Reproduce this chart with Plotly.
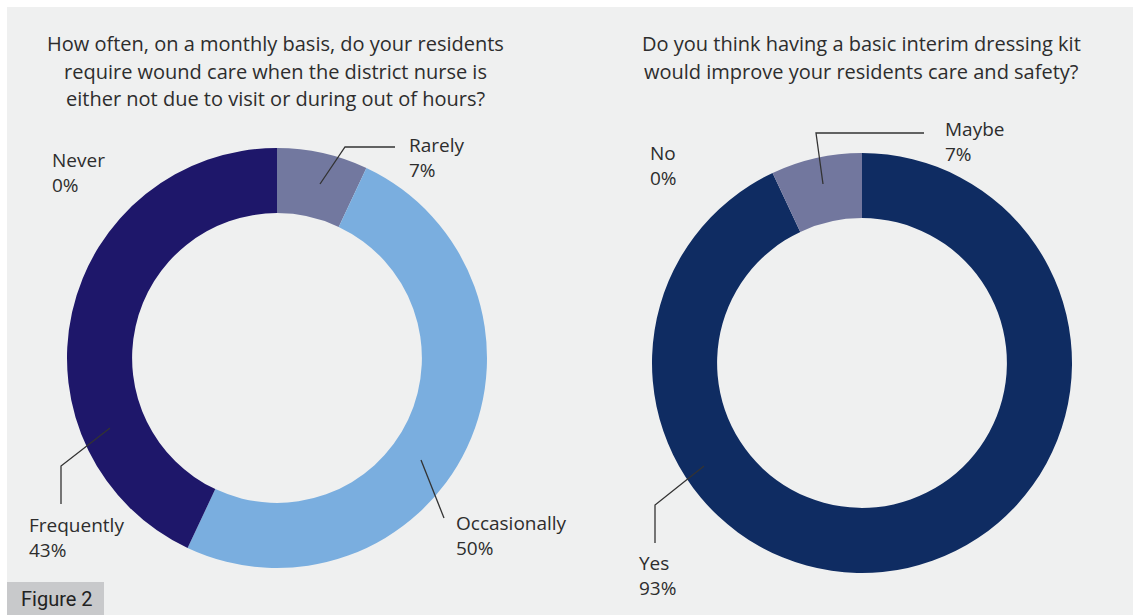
import plotly.graph_objects as go

# ---------------- data ----------------
q1_title = ["How often, on a monthly basis, do your residents",
            "require wound care when the district nurse is",
            "either not due to visit or during out of hours?"]
q1_labels = ["Rarely", "Occasionally", "Frequently", "Never"]
q1_values = [7, 50, 43, 0]
q1_colors = ["#72789f", "#7aaedf", "#1e176a", "#3b3f8f"]

q2_title = ["Do you think having a basic interim dressing kit",
            "would improve your residents care and safety?"]
q2_labels = ["Yes", "No", "Maybe"]
q2_values = [93, 0, 7]
q2_colors = ["#0f2c62", "#4a5a8a", "#72779e"]

figure_tag = "Figure 2"

# ---------------- layout helpers ----------------
W, H = 1136, 615
def px(x):
    return x / W
def py(y):
    return 1 - y / H

FONT = "Open Sans, Lato, sans-serif"
TXT = "#2d2d2d"
HOLE = 0.69
R = 210
c1 = (277, 358)
c2 = (862, 363)

fig = go.Figure()

def add_pie(labels, values, colors, center):
    cx, cy = center
    fig.add_trace(go.Pie(
        labels=labels, values=values, sort=False, direction="clockwise",
        rotation=0, hole=HOLE, textinfo="none", hoverinfo="label+percent",
        marker=dict(colors=colors, line=dict(width=0)),
        domain=dict(x=[px(cx - R), px(cx + R)], y=[py(cy + R), py(cy - R)]),
        showlegend=False,
    ))

add_pie(q1_labels, q1_values, q1_colors, c1)
add_pie(q2_labels, q2_values, q2_colors, c2)

shapes = []
# grey panel background
shapes.append(dict(type="rect", xref="paper", yref="paper", layer="below",
                   x0=px(7), x1=px(1133), y0=0, y1=py(7),
                   fillcolor="#eff0f0", line=dict(width=0)))
# figure tag box
shapes.append(dict(type="rect", xref="paper", yref="paper", layer="below",
                   x0=px(7), x1=px(104), y0=0, y1=py(582),
                   fillcolor="#c8c9cb", line=dict(width=0)))

# label placements (layout, px): label -> (text x, block center y, leader polyline)
placements = {
    "Never": (50, 172, None),
    "Rarely": (407, 158, [(320, 184), (345, 147), (395, 147)]),
    "Frequently": (27, 537, [(110, 428), (61, 466), (61, 504)]),
    "Occasionally": (454, 535, [(421, 460), (444, 518)]),
    "No": (648, 165, None),
    "Maybe": (943, 141, [(823, 184), (816, 133), (924, 133)]),
    "Yes": (637, 575, [(704, 466), (655, 505), (655, 543)]),
}

annotations = []
for labels, values in ((q1_labels, q1_values), (q2_labels, q2_values)):
    total = sum(values)
    for lab, val in zip(labels, values):
        tx, ty, line = placements[lab]
        pct = round(100 * val / total)
        annotations.append(dict(
            xref="paper", yref="paper", x=px(tx), y=py(ty),
            xanchor="left", yanchor="middle", align="left", showarrow=False,
            text=f"{lab}<br>{pct}%", font=dict(family=FONT, size=19, color=TXT)))
        if line:
            path = "M " + " L ".join(f"{px(x)},{py(y)}" for x, y in line)
            shapes.append(dict(type="path", xref="paper", yref="paper",
                               path=path, line=dict(color="#333333", width=1.3)))

# titles
for lines, cx in ((q1_title, 275), (q2_title, 861)):
    for i, t in enumerate(lines):
        annotations.append(dict(
            xref="paper", yref="paper", x=px(cx), y=py(44 + 27 * i),
            xanchor="center", yanchor="middle", showarrow=False, text=t,
            font=dict(family=FONT, size=20, color=TXT)))

annotations.append(dict(
    xref="paper", yref="paper", x=px(19), y=py(599),
    xanchor="left", yanchor="middle", showarrow=False, text=figure_tag,
    font=dict(family="Roboto, Inter, sans-serif", size=20, color="#222222")))

fig.update_layout(
    width=W, height=H, margin=dict(l=0, r=0, t=0, b=0),
    paper_bgcolor="white", plot_bgcolor="white",
    shapes=shapes, annotations=annotations,
)

fig.write_html("out.html", config={"displayModeBar": False})
